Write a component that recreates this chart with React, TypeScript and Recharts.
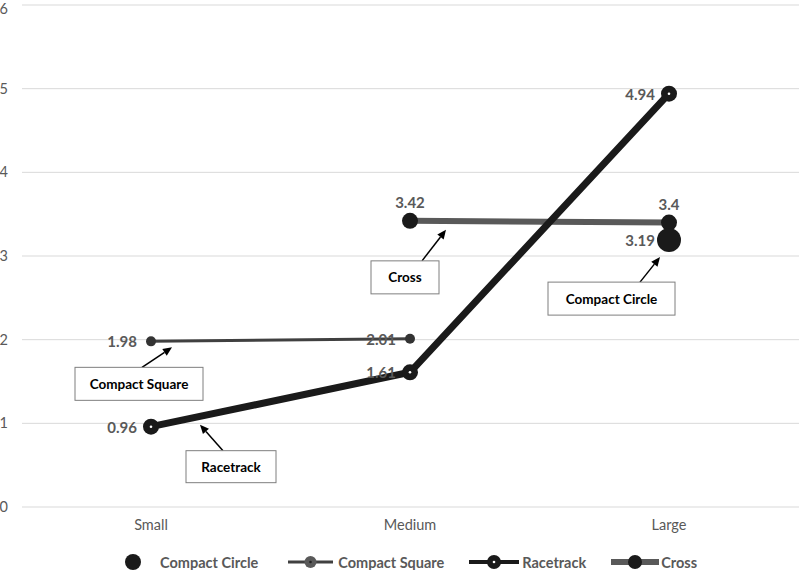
import React from 'react';
import {
  LineChart,
  Line,
  XAxis,
  YAxis,
  CartesianGrid,
  Legend,
  LabelList,
  ReferenceDot,
} from 'recharts';

// categories and series values
const sizes = ['Small', 'Medium', 'Large'];
const compactCircle = [null, null, 3.19];
const compactSquare = [1.98, 2.01, null];
const racetrack = [0.96, 1.61, 4.94];
const cross = [null, 3.42, 3.4];
const yTicks = [0, 1, 2, 3, 4, 5, 6];

const data = sizes.map((size, i) => ({
  size,
  compactCircle: compactCircle[i],
  compactSquare: compactSquare[i],
  racetrack: racetrack[i],
  cross: cross[i],
}));

const FONT = 'Lato, "Open Sans", sans-serif';
const GREY = '#595959';

// callouts: which point they hang off, and where the arrow/box sit relative to it
const callouts = [
  { text: 'Compact Square', x: 'Small', y: 1.98, tip: [21, 6], tail: [-9, 26], box: [-76, 26, 128, 33] },
  { text: 'Racetrack', x: 'Small', y: 0.96, tip: [49, -2], tail: [72, 24], box: [35, 24, 90, 32] },
  { text: 'Cross', x: 'Medium', y: 3.42, tip: [36, 9], tail: [12, 40], box: [-39, 40, 68, 33] },
  { text: 'Compact Circle', x: 'Large', y: 3.19, tip: [-9, 17], tail: [-29, 42], box: [-121, 42, 127, 33] },
];

const Callout = (c: any) => (props: any) => {
  const { cx, cy } = props;
  if (cx == null || cy == null) return <g />;
  const tx = cx + c.tip[0], ty = cy + c.tip[1];
  const sx = cx + c.tail[0], sy = cy + c.tail[1];
  const ang = Math.atan2(ty - sy, tx - sx);
  const len = 9, wid = 4;
  const bx = tx - len * Math.cos(ang), by = ty - len * Math.sin(ang);
  const p1 = `${bx + wid * Math.sin(ang)},${by - wid * Math.cos(ang)}`;
  const p2 = `${bx - wid * Math.sin(ang)},${by + wid * Math.cos(ang)}`;
  const [bl, bt, bw, bh] = c.box;
  return (
    <g>
      <line x1={sx} y1={sy} x2={bx} y2={by} stroke="#000" strokeWidth={1.5} />
      <polygon points={`${tx},${ty} ${p1} ${p2}`} fill="#000" />
      <rect x={cx + bl} y={cy + bt} width={bw} height={bh} fill="#fff" stroke="#7f7f7f" strokeWidth={1} />
      <text
        x={cx + bl + bw / 2}
        y={cy + bt + bh / 2}
        textAnchor="middle"
        dominantBaseline="central"
        fontFamily={FONT}
        fontWeight={700}
        fontSize={13.5}
        fill="#000"
      >
        {c.text}
      </text>
    </g>
  );
};

const makeDot = (r: number, fill: string, center?: string) => (props: any) => {
  const { cx, cy, value, index } = props;
  if (cx == null || cy == null || value == null) return <g key={index} />;
  return (
    <g key={index}>
      <circle cx={cx} cy={cy} r={r} fill={fill} />
      {center && <circle cx={cx} cy={cy} r={1.3} fill={center} />}
    </g>
  );
};

const makeLabel = (pos: 'left' | 'top') => (props: any) => {
  const { x, y, value } = props;
  if (value == null || x == null || y == null) return null;
  const common = { fontFamily: FONT, fontWeight: 700, fontSize: 15, fill: GREY };
  if (pos === 'top')
    return (
      <text x={x} y={y - 19} textAnchor="middle" dominantBaseline="central" {...common}>
        {value}
      </text>
    );
  return (
    <text x={x - 14} y={y} textAnchor="end" dominantBaseline="central" {...common}>
      {value}
    </text>
  );
};

const legendItems = [
  { name: 'Compact Circle', w: 44, line: 0, lineColor: '#000', dot: 8, dotColor: '#1a1a1a', center: null, gap: 5, after: 30 },
  { name: 'Compact Square', w: 45, line: 3, lineColor: '#404040', dot: 6, dotColor: '#595959', center: '#222', gap: 5, after: 25 },
  { name: 'Racetrack', w: 50, line: 4, lineColor: '#1a1a1a', dot: 7, dotColor: '#1a1a1a', center: '#fff', gap: 3, after: 25 },
  { name: 'Cross', w: 48, line: 6, lineColor: GREY, dot: 7, dotColor: '#1a1a1a', center: null, gap: 2, after: 0 },
];

const renderLegend = () => (
  <div style={{ display: 'flex', alignItems: 'center', paddingLeft: 111, marginTop: 15 }}>
    {legendItems.map((it) => (
      <div key={it.name} style={{ display: 'flex', alignItems: 'center', marginRight: it.after }}>
        <svg width={it.w} height={20}>
          {it.line > 0 && <line x1={0} y1={10} x2={it.w} y2={10} stroke={it.lineColor} strokeWidth={it.line} />}
          <circle cx={it.w / 2} cy={10} r={it.dot} fill={it.dotColor} />
          {it.center && <circle cx={it.w / 2} cy={10} r={1.3} fill={it.center} />}
        </svg>
        <span
          style={{
            fontFamily: FONT,
            fontWeight: 700,
            fontSize: 14.5,
            color: GREY,
            marginLeft: it.gap,
            whiteSpace: 'nowrap',
          }}
        >
          {it.name}
        </span>
      </div>
    ))}
  </div>
);

export default function App() {
  return (
    <div style={{ position: 'absolute', left: 0, top: 0, width: 799, height: 570, background: '#fff' }}>
      <LineChart width={799} height={570} data={data} margin={{ top: 5, right: 0, bottom: 5, left: 0 }}>
        <CartesianGrid vertical={false} stroke="#d9d9d9" strokeWidth={1} />
        <XAxis
          dataKey="size"
          axisLine={false}
          tickLine={false}
          padding={{ left: 129, right: 130 }}
          height={30}
          tickMargin={7}
          tick={{ fontFamily: FONT, fontSize: 14.5, fill: GREY }}
        />
        <YAxis
          domain={[0, 6]}
          ticks={yTicks}
          width={22}
          axisLine={false}
          tickLine={false}
          tickMargin={8}
          tick={{ fontFamily: FONT, fontSize: 14.5, fill: GREY }}
        />
        <Legend verticalAlign="bottom" height={28} content={renderLegend} />
        <Line
          dataKey="compactSquare"
          name="Compact Square"
          stroke="#404040"
          strokeWidth={3}
          dot={makeDot(5, '#333')}
          activeDot={false}
          isAnimationActive={false}
        >
          <LabelList dataKey="compactSquare" content={makeLabel('left')} />
        </Line>
        <Line
          dataKey="cross"
          name="Cross"
          stroke={GREY}
          strokeWidth={6}
          dot={makeDot(8, '#1a1a1a')}
          activeDot={false}
          isAnimationActive={false}
        >
          <LabelList dataKey="cross" content={makeLabel('top')} />
        </Line>
        <Line
          dataKey="racetrack"
          name="Racetrack"
          stroke="#1a1a1a"
          strokeWidth={7}
          dot={makeDot(8, '#1a1a1a', '#fff')}
          activeDot={false}
          isAnimationActive={false}
        >
          <LabelList dataKey="racetrack" content={makeLabel('left')} />
        </Line>
        <Line
          dataKey="compactCircle"
          name="Compact Circle"
          stroke="none"
          dot={makeDot(12, '#1a1a1a')}
          activeDot={false}
          isAnimationActive={false}
        >
          <LabelList dataKey="compactCircle" content={makeLabel('left')} />
        </Line>
        {callouts.map((c) => (
          <ReferenceDot key={c.text} x={c.x} y={c.y} r={0} ifOverflow="visible" shape={Callout(c)} />
        ))}
      </LineChart>
    </div>
  );
}
